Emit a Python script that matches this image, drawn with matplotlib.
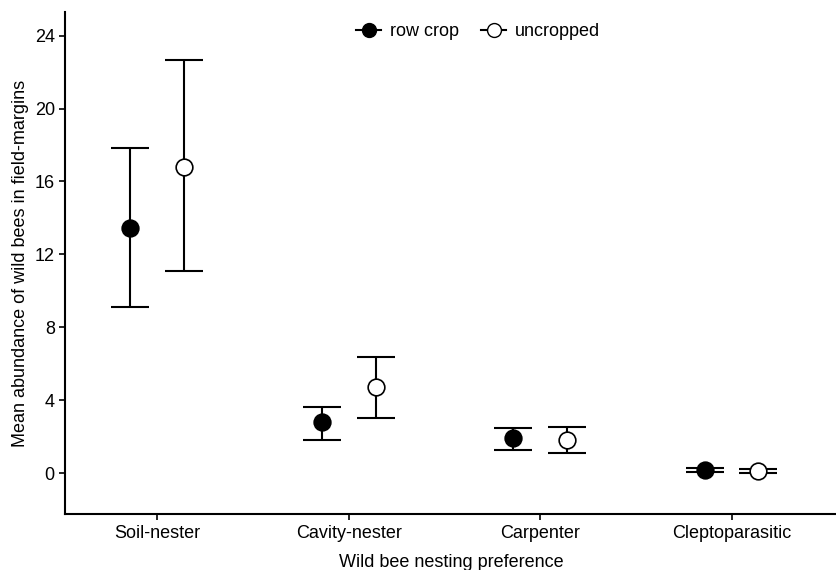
import matplotlib
matplotlib.use("Agg")
import matplotlib.pyplot as plt
import numpy as np

plt.rcParams['font.family'] = ['Liberation Sans', 'DejaVu Sans']

categories = ["Soil-nester", "Cavity-nester", "Carpenter", "Cleptoparasitic"]
groups = ["row crop", "uncropped"]
means = {
    "row crop": [13.46, 2.78, 1.92, 0.16],
    "uncropped": [16.8, 4.70, 1.81, 0.10],
}
lower = {
    "row crop": [9.12, 1.81, 1.26, 0.05],
    "uncropped": [11.1, 3.02, 1.10, 0.0],
}
upper = {
    "row crop": [17.86, 3.63, 2.47, 0.27],
    "uncropped": [22.65, 6.35, 2.53, 0.25],
}
yticks = [0, 4, 8, 12, 16, 20, 24]

fig = plt.figure(figsize=(8.37, 5.70), dpi=100)
ax = fig.add_axes([0.078, 0.098, 0.922, 0.881])

x = np.arange(len(categories))
offsets = {"row crop": -0.14, "uncropped": 0.14}
faces = {"row crop": "black", "uncropped": "white"}

handles = []
for g in groups:
    m = np.array(means[g])
    lo = m - np.array(lower[g])
    hi = np.array(upper[g]) - m
    xs = x + offsets[g]
    ax.errorbar(xs, m, yerr=[lo, hi], fmt='none', ecolor='black',
                elinewidth=1.5, capsize=14, capthick=1.5, zorder=2)
    ax.plot(xs, m, linestyle='none', marker='o', markersize=12,
            markerfacecolor=faces[g], markeredgecolor='black',
            markeredgewidth=1.2, zorder=3)
    h, = ax.plot([], [], linestyle='-', color='black', linewidth=1.5,
                 marker='o', markersize=10, markerfacecolor=faces[g],
                 markeredgecolor='black', markeredgewidth=1.0, label=g)
    handles.append(h)

ax.set_xlim(-0.48, 3.55)
ax.set_ylim(-2.25, 25.3)
ax.set_xticks(x)
ax.set_xticklabels(categories, fontsize=13)
ax.set_yticks(yticks)
ax.set_yticklabels([str(v) for v in yticks], fontsize=13)
ax.tick_params(direction='out', length=4, width=1.2, colors='black')

for s in ['top', 'right']:
    ax.spines[s].set_visible(False)
for s in ['left', 'bottom']:
    ax.spines[s].set_linewidth(1.5)

ax.set_xlabel("Wild bee nesting preference", fontsize=13, labelpad=9)
ax.set_ylabel("Mean abundance of wild bees in field-margins", fontsize=13, labelpad=4)

leg = ax.legend(handles=handles, loc='upper center', bbox_to_anchor=(0.535, 1.01),
                ncol=2, frameon=False, fontsize=13, handlelength=1.4,
                columnspacing=1.2, handletextpad=0.5)

fig.savefig("out.png", dpi=100)
